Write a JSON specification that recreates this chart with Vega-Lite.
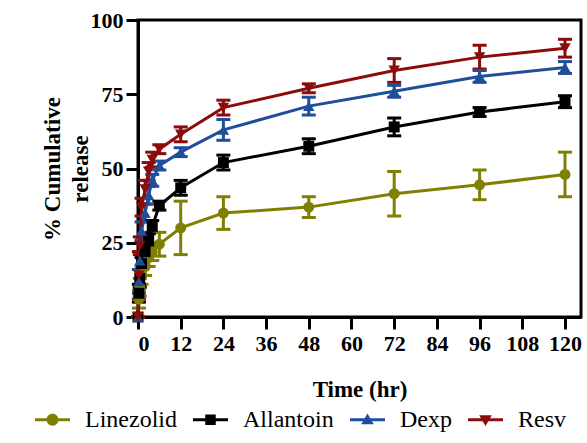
{
  "$schema": "https://vega.github.io/schema/vega-lite/v6.json",
  "width": 443,
  "height": 297,
  "autosize": {"type": "none"},
  "padding": {"left": 138, "top": 20, "right": 6, "bottom": 126},
  "background": "white",
  "config": {
    "view": {"stroke": "black", "strokeWidth": 3},
    "font": "Liberation Serif",
    "axis": {
      "grid": false,
      "domainColor": "black",
      "domainWidth": 3,
      "tickColor": "black",
      "tickWidth": 3,
      "tickSize": 12,
      "labelFont": "Liberation Serif",
      "labelFontWeight": "bold",
      "labelFontSize": 22,
      "labelColor": "black",
      "titleFont": "Liberation Serif",
      "titleFontWeight": "bold",
      "titleFontSize": 23,
      "titleColor": "black"
    },
    "legend": {
      "labelFont": "Liberation Serif",
      "labelFontSize": 24,
      "labelFontWeight": "normal",
      "labelColor": "black"
    }
  },
  "data": {
    "values": [
      {"series": "Linezolid", "time": 0, "mean": 0, "lo": 0, "hi": 0},
      {"series": "Linezolid", "time": 0.25, "mean": 6, "lo": 3, "hi": 9},
      {"series": "Linezolid", "time": 0.5, "mean": 10, "lo": 7, "hi": 13},
      {"series": "Linezolid", "time": 1, "mean": 14, "lo": 11, "hi": 17},
      {"series": "Linezolid", "time": 2, "mean": 17, "lo": 14, "hi": 20},
      {"series": "Linezolid", "time": 3, "mean": 20, "lo": 17, "hi": 23},
      {"series": "Linezolid", "time": 4, "mean": 22, "lo": 19, "hi": 25},
      {"series": "Linezolid", "time": 6, "mean": 24.5, "lo": 20.5, "hi": 28.5},
      {"series": "Linezolid", "time": 12, "mean": 30, "lo": 21, "hi": 39},
      {"series": "Linezolid", "time": 24, "mean": 35, "lo": 29.5, "hi": 40.5},
      {"series": "Linezolid", "time": 48, "mean": 37, "lo": 33.5, "hi": 40.5},
      {"series": "Linezolid", "time": 72, "mean": 41.5, "lo": 34, "hi": 49},
      {"series": "Linezolid", "time": 96, "mean": 44.5, "lo": 39.5, "hi": 49.5},
      {"series": "Linezolid", "time": 120, "mean": 48, "lo": 40.5, "hi": 55.5},
      {"series": "Allantoin", "time": 0, "mean": 0, "lo": 0, "hi": 0},
      {"series": "Allantoin", "time": 0.25, "mean": 8, "lo": 5, "hi": 11},
      {"series": "Allantoin", "time": 0.5, "mean": 13, "lo": 10, "hi": 16},
      {"series": "Allantoin", "time": 1, "mean": 18, "lo": 16, "hi": 20},
      {"series": "Allantoin", "time": 2, "mean": 22, "lo": 20, "hi": 24},
      {"series": "Allantoin", "time": 3, "mean": 26, "lo": 24, "hi": 28},
      {"series": "Allantoin", "time": 4, "mean": 30.5, "lo": 28.5, "hi": 32.5},
      {"series": "Allantoin", "time": 6, "mean": 37.5, "lo": 36, "hi": 39},
      {"series": "Allantoin", "time": 12, "mean": 43.5, "lo": 41, "hi": 46},
      {"series": "Allantoin", "time": 24, "mean": 52, "lo": 49.5, "hi": 54.5},
      {"series": "Allantoin", "time": 48, "mean": 57.5, "lo": 55, "hi": 60},
      {"series": "Allantoin", "time": 72, "mean": 64, "lo": 61, "hi": 67},
      {"series": "Allantoin", "time": 96, "mean": 69, "lo": 67.5, "hi": 70.5},
      {"series": "Allantoin", "time": 120, "mean": 72.5, "lo": 70.5, "hi": 74.5},
      {"series": "Dexp", "time": 0, "mean": 0, "lo": 0, "hi": 0},
      {"series": "Dexp", "time": 0.25, "mean": 12, "lo": 8, "hi": 16},
      {"series": "Dexp", "time": 0.5, "mean": 19, "lo": 16, "hi": 22},
      {"series": "Dexp", "time": 1, "mean": 29, "lo": 26, "hi": 32},
      {"series": "Dexp", "time": 2, "mean": 35, "lo": 32, "hi": 38},
      {"series": "Dexp", "time": 3, "mean": 41, "lo": 38, "hi": 44},
      {"series": "Dexp", "time": 4, "mean": 46, "lo": 44, "hi": 48},
      {"series": "Dexp", "time": 6, "mean": 51, "lo": 49.5, "hi": 52.5},
      {"series": "Dexp", "time": 12, "mean": 55.5, "lo": 54, "hi": 57},
      {"series": "Dexp", "time": 24, "mean": 63, "lo": 59.5, "hi": 66.5},
      {"series": "Dexp", "time": 48, "mean": 71, "lo": 68, "hi": 74},
      {"series": "Dexp", "time": 72, "mean": 76, "lo": 74, "hi": 78},
      {"series": "Dexp", "time": 96, "mean": 81, "lo": 79, "hi": 83},
      {"series": "Dexp", "time": 120, "mean": 84, "lo": 82, "hi": 86},
      {"series": "Resv", "time": 0, "mean": 0, "lo": 0, "hi": 0},
      {"series": "Resv", "time": 0.25, "mean": 14, "lo": 6, "hi": 22},
      {"series": "Resv", "time": 0.5, "mean": 24, "lo": 21, "hi": 27},
      {"series": "Resv", "time": 1, "mean": 37, "lo": 34, "hi": 40},
      {"series": "Resv", "time": 2, "mean": 43, "lo": 40, "hi": 46},
      {"series": "Resv", "time": 3, "mean": 49, "lo": 46, "hi": 52},
      {"series": "Resv", "time": 4, "mean": 53, "lo": 50.5, "hi": 55.5},
      {"series": "Resv", "time": 6, "mean": 56.5, "lo": 55, "hi": 58},
      {"series": "Resv", "time": 12, "mean": 61.5, "lo": 59, "hi": 64},
      {"series": "Resv", "time": 24, "mean": 70.5, "lo": 68, "hi": 73},
      {"series": "Resv", "time": 48, "mean": 77, "lo": 75.5, "hi": 78.5},
      {"series": "Resv", "time": 72, "mean": 83, "lo": 79, "hi": 87},
      {"series": "Resv", "time": 96, "mean": 87.5, "lo": 83.5, "hi": 91.5},
      {"series": "Resv", "time": 120, "mean": 90.5, "lo": 87.5, "hi": 93.5}
    ]
  },
  "encoding": {
    "x": {
      "field": "time",
      "type": "quantitative",
      "scale": {"domain": [0, 124.5], "nice": false, "zero": false},
      "axis": {
        "values": [0, 12, 24, 36, 48, 60, 72, 84, 96, 108, 120],
        "title": "Time (hr)",
        "labelPadding": 4,
        "titlePadding": 24
      }
    }
  },
  "layer": [
    {
      "mark": {"type": "rule", "strokeWidth": 3},
      "encoding": {
        "y": {"field": "lo", "type": "quantitative", "scale": {"domain": [0, 100], "nice": false},
          "axis": {
            "values": [0, 25, 50, 75, 100],
            "title": ["% Cumulative", "release"],
            "labelPadding": 3,
            "titleX": -86,
            "titleY": 148.5,
            "titleAngle": -90,
            "titleAlign": "center",
            "titleBaseline": "middle",
            "titleLineHeight": 28
          }},
        "y2": {"field": "hi"},
        "stroke": {"field": "series", "type": "nominal",
          "scale": {"domain": ["Allantoin", "Dexp", "Linezolid", "Resv"],
            "range": ["#000000", "#1f4e9a", "#808000", "#8c0c0c"]},
          "legend": null}
      }
    },
    {
      "mark": {"type": "point", "shape": "stroke", "filled": false, "opacity": 1, "size": 196, "strokeWidth": 3},
      "encoding": {"y": {"field": "lo", "type": "quantitative"},
        "stroke": {"field": "series", "type": "nominal", "legend": null}}
    },
    {
      "mark": {"type": "point", "shape": "stroke", "filled": false, "opacity": 1, "size": 196, "strokeWidth": 3},
      "encoding": {"y": {"field": "hi", "type": "quantitative"},
        "stroke": {"field": "series", "type": "nominal", "legend": null}}
    },
    {
      "mark": {"type": "line", "strokeWidth": 3},
      "encoding": {"y": {"field": "mean", "type": "quantitative"},
        "stroke": {"field": "series", "type": "nominal", "legend": null}}
    },
    {
      "transform": [{"filter": "datum.series === 'Linezolid'"}],
      "mark": {"type": "point", "shape": "circle", "filled": true, "opacity": 1, "size": 120},
      "encoding": {"y": {"field": "mean", "type": "quantitative"},
        "fill": {"field": "series", "type": "nominal", "legend": null,
          "scale": {"domain": ["Allantoin", "Dexp", "Linezolid", "Resv"],
            "range": ["#000000", "#1f4e9a", "#808000", "#8c0c0c"]}}}
    },
    {
      "transform": [{"filter": "datum.series === 'Allantoin'"}],
      "mark": {"type": "point", "shape": "square", "filled": true, "opacity": 1, "size": 120},
      "encoding": {"y": {"field": "mean", "type": "quantitative"},
        "fill": {"field": "series", "type": "nominal", "legend": null}}
    },
    {
      "transform": [{"filter": "datum.series === 'Dexp'"}],
      "mark": {"type": "point", "shape": "triangle-up", "filled": true, "opacity": 1, "size": 130},
      "encoding": {"y": {"field": "mean", "type": "quantitative"},
        "fill": {"field": "series", "type": "nominal", "legend": null}}
    },
    {
      "transform": [{"filter": "datum.series === 'Resv'"}],
      "mark": {"type": "point", "shape": "triangle-down", "filled": true, "opacity": 1, "size": 130},
      "encoding": {"y": {"field": "mean", "type": "quantitative"},
        "fill": {"field": "series", "type": "nominal", "legend": null}}
    },
    {
      "transform": [{"filter": "datum.time === 120"}],
      "mark": {"type": "point", "filled": true, "opacity": 1, "size": 1225, "clip": true},
      "encoding": {
        "x": {"datum": 140, "type": "quantitative"},
        "y": {"field": "mean", "type": "quantitative"},
        "color": {"field": "series", "type": "nominal",
          "scale": {"domain": ["Linezolid", "Allantoin", "Dexp", "Resv"],
            "range": ["#808000", "#000000", "#1f4e9a", "#8c0c0c"]},
          "legend": {
            "orient": "none", "legendX": -103, "legendY": 382,
            "direction": "horizontal", "title": null, "padding": 0,
            "labelFont": "Liberation Serif, serif", "labelFontSize": 24, "labelColor": "black",
            "labelOffset": 15, "columnPadding": 16, "symbolSize": 1225,
            "symbolStrokeWidth": 0, "symbolOpacity": 1
          }},
        "shape": {
          "field": "series",
          "type": "nominal",
          "scale": {
            "domain": ["Linezolid", "Allantoin", "Dexp", "Resv"],
            "range": [
              "M-1,-0.09H1V0.09H-1Z M0.34,0A0.34,0.34 0 1,1 -0.34,0A0.34,0.34 0 1,1 0.34,0Z",
              "M-1,-0.09H1V0.09H-1Z M-0.3,-0.3H0.3V0.3H-0.3Z",
              "M-1,-0.09H1V0.09H-1Z M0,-0.36L0.36,0.26H-0.36Z",
              "M-1,-0.09H1V0.09H-1Z M-0.36,-0.26H0.36L0,0.36Z"
            ]
          },
          "legend": {
            "orient": "none", "legendX": -103, "legendY": 382,
            "direction": "horizontal", "title": null, "padding": 0,
            "labelFont": "Liberation Serif, serif", "labelFontSize": 24, "labelColor": "black",
            "labelOffset": 15, "columnPadding": 16, "symbolSize": 1225,
            "symbolStrokeWidth": 0, "symbolOpacity": 1
          }
        }
      }
    }
  ]
}
